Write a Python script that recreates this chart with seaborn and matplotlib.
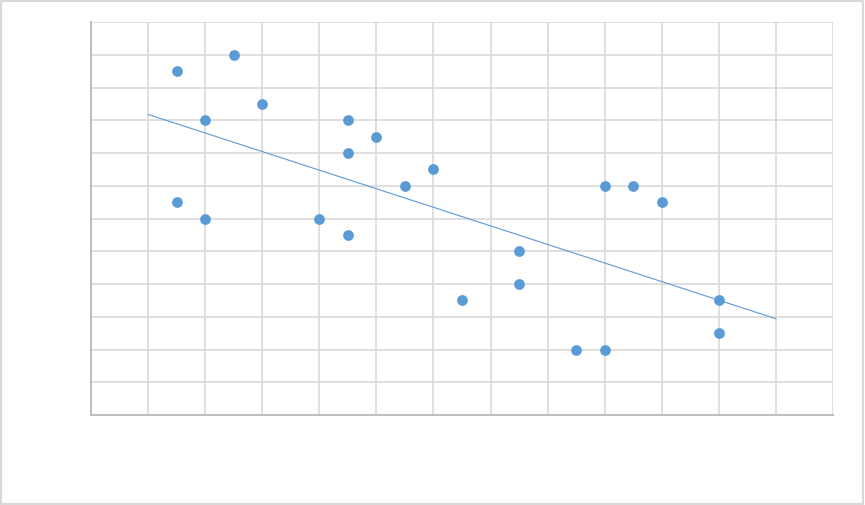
import numpy as np
import pandas as pd
import matplotlib
matplotlib.use("Agg")
import matplotlib.pyplot as plt
import seaborn as sns

# values (no axis labels shown in it)
x_vals = [1.5, 2.5, 3, 2, 4.5, 5, 4.5, 5.5, 6, 1.5, 2, 4, 4.5,
          7.5, 7.5, 6.5, 9, 9.5, 10, 11, 11, 8.5, 9]
y_vals = [10.5, 11, 9.5, 9, 9, 8.5, 8, 7, 7.5, 6.5, 6, 6, 5.5,
          5, 4, 3.5, 7, 7, 6.5, 3.5, 2.5, 2, 2]
trend_range = [1, 12]

blue = "#5B9BD5"
grid_col = "#d9d9d9"

df = pd.DataFrame({"x": x_vals, "y": y_vals})

sns.set_style("white")
fig = plt.figure(figsize=(8.65, 5.06), dpi=100)
ax = fig.add_axes([91 / 865, 1 - 416 / 506, (833 - 91) / 865, (416 - 23) / 506])

# linear trendline, extended like Excel's forecast
slope, icept = np.polyfit(df["x"], df["y"], 1)
tx = np.array(trend_range, dtype=float)
ax.plot(tx, slope * tx + icept, color=blue, linewidth=0.8, zorder=2)

sns.scatterplot(data=df, x="x", y="y", ax=ax, color=blue, s=60,
                edgecolor=blue, linewidth=0, zorder=3)

ax.set_xlim(0, 13)
ax.set_ylim(0, 12)
ax.set_xticks(np.arange(0, 14, 1))
ax.set_yticks(np.arange(0, 13, 1))
ax.grid(True, color=grid_col, linewidth=1.2)
ax.set_axisbelow(True)
ax.tick_params(length=0, labelbottom=False, labelleft=False)
ax.set_xlabel("")
ax.set_ylabel("")
for side in ["top", "right"]:
    ax.spines[side].set_visible(False)
for side in ["left", "bottom"]:
    ax.spines[side].set_color("#bfbfbf")
    ax.spines[side].set_linewidth(1.5)

# chart area border
fig.patches.append(plt.Rectangle((0.001, 0.002), 0.997, 0.995, transform=fig.transFigure,
                                 fill=False, edgecolor=grid_col, linewidth=1.5))

fig.savefig("out.png", dpi=100)
